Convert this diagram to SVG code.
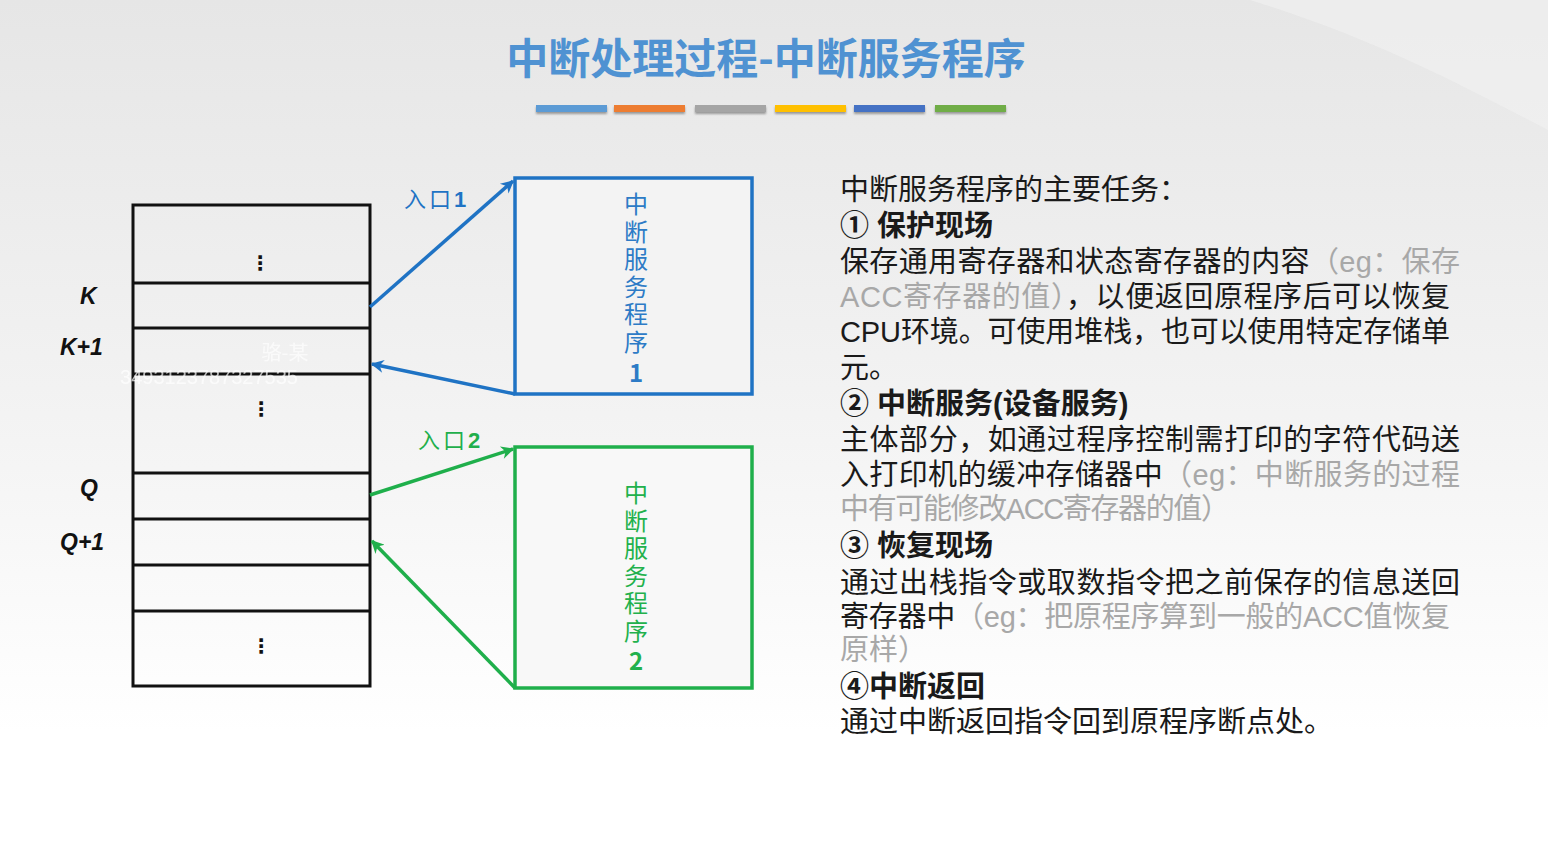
<svg xmlns="http://www.w3.org/2000/svg" width="1548" height="862" viewBox="0 0 1548 862">
<defs>
<linearGradient id="bg" x1="0" y1="0" x2="0" y2="1">
<stop offset="0" stop-color="#e6e6e6"/>
<stop offset="0.45" stop-color="#f2f2f2"/>
<stop offset="0.85" stop-color="#ffffff"/>
</linearGradient>
<marker id="ab" viewBox="0 0 10 10" refX="9" refY="5" markerWidth="15" markerHeight="13" markerUnits="userSpaceOnUse" orient="auto">
<path d="M0,0 L10,5 L0,10 L3,5 Z" fill="#1f73c4"/>
</marker>
<marker id="ag" viewBox="0 0 10 10" refX="9" refY="5" markerWidth="15" markerHeight="13" markerUnits="userSpaceOnUse" orient="auto">
<path d="M0,0 L10,5 L0,10 L3,5 Z" fill="#1faf4b"/>
</marker>
<filter id="sh" x="-10%" y="-50%" width="120%" height="250%">
<feDropShadow dx="0" dy="2" stdDeviation="1.2" flood-color="#000" flood-opacity="0.35"/>
</filter>
</defs>
<style>
.body{font-family:"Liberation Sans","Noto Sans CJK SC",sans-serif;font-size:29px;fill:#1a1a1a;}
.gray{fill:#a8a8a8;}
.bold{font-weight:bold;}
.cell{fill:none;stroke:#111;stroke-width:3;}
.lbl{font-family:"Liberation Sans",sans-serif;font-weight:bold;font-style:italic;font-size:23px;fill:#111;}
.dots{font-family:"DejaVu Sans",sans-serif;font-weight:bold;font-size:20px;fill:#111;text-anchor:middle;}
.vt{font-family:"Noto Sans CJK SC",sans-serif;font-size:24px;writing-mode:vertical-rl;text-orientation:upright;letter-spacing:3.5px;}
</style>
<rect x="0" y="0" width="1548" height="862" fill="url(#bg)"/>
<path d="M1250,0 C1380,40 1470,90 1548,130 L1548,0 Z" fill="#f1f1f1" opacity="0.6"/>

<g id="title">
<text x="766" y="74" text-anchor="middle" font-family="Noto Sans CJK SC, sans-serif" font-size="42" font-weight="bold" fill="#4f92d2">中断处理过程-中断服务程序</text>
<g filter="url(#sh)">
<rect x="536" y="105" width="71" height="7" fill="#5b9bd5"/>
<rect x="614" y="105" width="71" height="7" fill="#ed7d31"/>
<rect x="695" y="105" width="71" height="7" fill="#a5a5a5"/>
<rect x="775" y="105" width="71" height="7" fill="#ffc000"/>
<rect x="854" y="105" width="71" height="7" fill="#4472c4"/>
<rect x="935" y="105" width="71" height="7" fill="#70ad47"/>
</g>
</g>

<g id="stack">
<rect class="cell" x="133" y="205" width="237" height="481" fill="#f7f7f7"/>
<line class="cell" x1="133" y1="283" x2="370" y2="283"/>
<line class="cell" x1="133" y1="328" x2="370" y2="328"/>
<line class="cell" x1="133" y1="374" x2="370" y2="374"/>
<line class="cell" x1="133" y1="473" x2="370" y2="473"/>
<line class="cell" x1="133" y1="519" x2="370" y2="519"/>
<line class="cell" x1="133" y1="565" x2="370" y2="565"/>
<line class="cell" x1="133" y1="611" x2="370" y2="611"/>
<text class="dots" x="260" y="270">⋮</text>
<text class="dots" x="261" y="416">⋮</text>
<text class="dots" x="261" y="653">⋮</text>
<text x="285" y="360" text-anchor="middle" font-family="Noto Sans CJK SC, sans-serif" font-size="20" fill="#ffffff" opacity="0.7">骆-某</text>
<text x="209" y="384" text-anchor="middle" font-family="Liberation Sans, sans-serif" font-size="20" fill="#ffffff" opacity="0.7">3493123787327535</text>
</g>

<g id="labels">
<text class="lbl" x="80" y="304">K</text>
<text class="lbl" x="60" y="355">K+1</text>
<text class="lbl" x="80" y="496">Q</text>
<text class="lbl" x="60" y="550">Q+1</text>
</g>

<g id="box1">
<rect x="515" y="178" width="237" height="216" fill="#f3f3f3" stroke="#1f73c4" stroke-width="3.5"/>
<text class="vt" fill="#2d7bc6" x="636" y="192">中断服务程序<tspan font-weight="bold" dy="4">1</tspan></text>
</g>

<g id="box2">
<rect x="515" y="447" width="237" height="241" fill="#f8f8f8" stroke="#1faf4b" stroke-width="3.5"/>
<text class="vt" fill="#22b14c" x="636" y="481">中断服务程序<tspan font-weight="bold" dy="3">2</tspan></text>
</g>

<g id="connectors" fill="none" stroke-width="3.5">
<line x1="370" y1="307" x2="513" y2="181" stroke="#1f73c4" marker-end="url(#ab)"/>
<line x1="515" y1="394" x2="372" y2="364" stroke="#1f73c4" marker-end="url(#ab)"/>
<line x1="370" y1="495" x2="513" y2="449" stroke="#1faf4b" marker-end="url(#ag)"/>
<line x1="515" y1="688" x2="372" y2="541" stroke="#1faf4b" marker-end="url(#ag)"/>
<text x="404" y="207" font-family="Noto Sans CJK SC, sans-serif" font-size="22" fill="#1f73c4" stroke="none" letter-spacing="3">入口<tspan font-family="Liberation Sans, sans-serif" font-weight="bold">1</tspan></text>
<text x="418" y="448" font-family="Noto Sans CJK SC, sans-serif" font-size="22" fill="#1faf4b" stroke="none" letter-spacing="3">入口<tspan font-family="Liberation Sans, sans-serif" font-weight="bold">2</tspan></text>
</g>

<g id="tasks" class="body">
<text x="840" y="200">中断服务程序的主要任务：</text>
<text x="840" y="236" class="bold">① 保护现场</text>
<text x="840" y="272" textLength="620" lengthAdjust="spacing">保存通用寄存器和状态寄存器的内容<tspan class="gray">（eg：保存</tspan></text>
<text x="840" y="307" textLength="610" lengthAdjust="spacing"><tspan class="gray">ACC寄存器的值）</tspan>，以便返回原程序后可以恢复</text>
<text x="840" y="342" textLength="610" lengthAdjust="spacing">CPU环境。可使用堆栈，也可以使用特定存储单</text>
<text x="840" y="378">元。</text>
<text x="840" y="414" class="bold">② 中断服务(设备服务)</text>
<text x="840" y="450" textLength="620" lengthAdjust="spacing">主体部分，如通过程序控制需打印的字符代码送</text>
<text x="840" y="485" textLength="620" lengthAdjust="spacing">入打印机的缓冲存储器中<tspan class="gray">（eg：中断服务的过程</tspan></text>
<text x="840" y="519" class="gray" textLength="390" lengthAdjust="spacing">中有可能修改ACC寄存器的值）</text>
<text x="840" y="556" class="bold">③ 恢复现场</text>
<text x="840" y="593" textLength="620" lengthAdjust="spacing">通过出栈指令或取数指令把之前保存的信息送回</text>
<text x="840" y="627" textLength="610" lengthAdjust="spacing">寄存器中<tspan class="gray">（eg：把原程序算到一般的ACC值恢复</tspan></text>
<text x="840" y="660" class="gray">原样）</text>
<text x="840" y="697" class="bold">④中断返回</text>
<text x="840" y="732">通过中断返回指令回到原程序断点处。</text>
</g>
</svg>
